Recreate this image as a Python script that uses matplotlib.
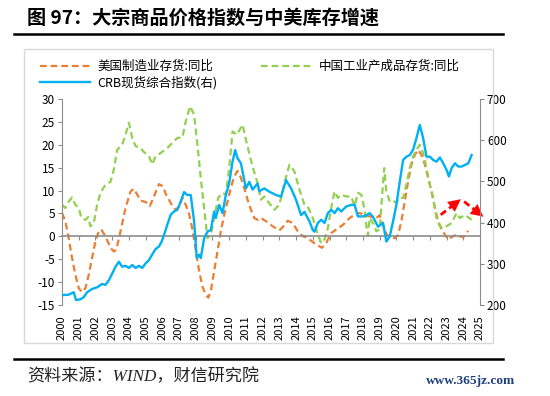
import matplotlib
matplotlib.use("Agg")
import matplotlib.pyplot as plt
from matplotlib.patches import Rectangle
from matplotlib.lines import Line2D

plt.rcParams['font.family'] = ['Noto Sans CJK SC', 'DejaVu Sans']
plt.rcParams['axes.unicode_minus'] = False

# 美国制造业存货:同比 (%)
us_t = [2000.0, 2000.2, 2000.4, 2000.6, 2000.8, 2001.0, 2001.2, 2001.4, 2001.6, 2001.8,
        2002.0, 2002.2, 2002.35, 2002.6, 2002.9, 2003.1, 2003.25, 2003.5, 2003.8, 2004.1,
        2004.3, 2004.5, 2004.7, 2005.0, 2005.25, 2005.5, 2005.8, 2006.05, 2006.2, 2006.4,
        2006.6, 2006.8, 2007.0, 2007.2, 2007.4, 2007.6, 2007.8, 2008.0, 2008.2, 2008.4,
        2008.6, 2008.75, 2008.9, 2009.1, 2009.3, 2009.5, 2009.7, 2009.9, 2010.1, 2010.3,
        2010.5, 2010.7, 2010.9, 2011.1, 2011.3, 2011.5, 2011.7, 2011.9, 2012.2, 2012.6,
        2013.0, 2013.2, 2013.5, 2013.8, 2014.1, 2014.4, 2014.6, 2014.8, 2015.1, 2015.4,
        2015.55, 2015.8, 2016.1, 2016.4, 2016.8, 2017.2, 2017.5, 2017.8, 2018.2, 2018.6,
        2018.8, 2019.0, 2019.2, 2019.4, 2019.6, 2019.9, 2020.1, 2020.3, 2020.5, 2020.7,
        2020.9, 2021.1, 2021.3, 2021.5, 2021.7, 2021.9, 2022.1, 2022.3, 2022.5, 2022.7,
        2022.9, 2023.1, 2023.3, 2023.6, 2023.8, 2024.0, 2024.3]
us_inv = [5.1, 3.3, -0.4, -4.7, -8.4, -11.3, -12.2, -11.3, -8.4, -4.7,
          -1.1, 1.1, 1.5, 0.0, -2.5, -3.3, -2.9, 1.1, 6.2, 9.8,
          10.4, 9.1, 7.8, 7.5, 6.6, 8.7, 11.4, 10.9, 9.3, 8.0,
          6.6, 5.8, 6.5, 8.4, 6.9, 5.0, 1.5, -3.0, -7.5, -11.0,
          -12.8, -13.4, -12.0, -7.6, -3.3, 1.1, 4.7, 7.6, 10.6, 13.1,
          14.3, 12.8, 10.5, 8.0, 5.8, 4.0, 3.6, 4.0, 3.3, 2.2,
          1.3, 2.0, 3.4, 2.9, 1.1, 0.0, -0.2, -0.7, -1.5, -2.2,
          -2.5, -1.5, 0.7, 1.5, 2.5, 4.0, 4.7, 5.1, 4.5, 4.2,
          4.0, 4.6, 2.5, 0.5, -0.2, -0.4, 0.3, 3.3, 7.6, 12.0,
          15.7, 17.8, 18.9, 17.8, 15.7, 12.7, 9.8, 6.2, 3.3, 1.5,
          0.4, -0.7, -0.2, 0.4, 0.0, -0.2, 1.2]

# 中国工业产成品存货:同比 (%)
cn_t = [2000.0, 2000.2, 2000.4, 2000.6, 2000.8, 2001.0, 2001.16, 2001.4, 2001.56, 2001.7,
        2001.9, 2002.1, 2002.3, 2002.6, 2002.9, 2003.1, 2003.3, 2003.6, 2003.8, 2004.0,
        2004.2, 2004.4, 2004.7, 2004.9, 2005.2, 2005.4, 2005.6, 2005.9, 2006.3, 2006.6,
        2006.9, 2007.2, 2007.4, 2007.66, 2007.9, 2008.1, 2008.3, 2008.5, 2008.7, 2008.9,
        2009.1, 2009.34, 2009.6, 2009.8, 2010.0, 2010.2, 2010.46, 2010.8, 2011.0, 2011.4,
        2011.7, 2011.9, 2012.1, 2012.4, 2012.7, 2013.0, 2013.3, 2013.6, 2013.9, 2014.2,
        2014.5, 2014.7, 2015.0, 2015.3, 2015.5, 2015.7, 2015.9, 2016.1, 2016.3, 2016.5,
        2016.7, 2017.0, 2017.3, 2017.5, 2017.7, 2017.9, 2018.1, 2018.22, 2018.3, 2018.4,
        2018.6, 2018.8, 2019.0, 2019.15, 2019.27, 2019.4, 2019.6, 2019.8, 2020.0, 2020.2,
        2020.4, 2020.6, 2020.8, 2021.0, 2021.2, 2021.4, 2021.6, 2021.8, 2022.0, 2022.2,
        2022.4, 2022.6, 2022.8, 2023.0, 2023.3, 2023.6, 2023.8, 2024.1, 2024.5]
cn_inv = [6.9, 6.2, 7.6, 8.5, 6.9, 6.2, 4.0, 3.6, 4.2, 2.2,
          2.9, 6.9, 9.5, 11.3, 11.9, 14.6, 18.9, 20.0, 22.2, 24.8,
          21.5, 19.7, 19.3, 18.4, 17.5, 15.7, 17.5, 18.2, 19.3, 20.4,
          21.5, 21.6, 25.1, 28.4, 26.6, 20.0, 12.7, 6.2, -0.4, 0.4,
          4.0, 8.4, 9.5, 9.1, 14.9, 22.9, 22.2, 24.4, 21.1, 15.2,
          11.6, 8.0, 8.7, 7.2, 5.8, 6.9, 11.6, 15.6, 14.2, 10.2,
          6.9, 6.5, 4.0, 0.4, -1.5, -0.7, 1.8, 6.2, 9.8, 8.4,
          9.1, 8.7, 8.7, 6.6, 9.5, 9.1, 5.8, 1.8, 0.2, 4.0,
          2.9, 1.1, 1.5, 9.1, 14.9, 9.8, 7.6, 7.8, 7.3, 8.4,
          8.4, 11.3, 14.9, 17.5, 18.9, 20.0, 18.2, 14.9, 11.3, 8.4,
          4.0, 2.2, 1.8, 2.2, 2.9, 5.1, 4.0, 4.7, 3.6]

# CRB现货综合指数 (右轴)
crb_t = [2000.0, 2000.4, 2000.7, 2000.84, 2001.1, 2001.3, 2001.5, 2001.8, 2002.1, 2002.4,
         2002.6, 2002.8, 2003.0, 2003.2, 2003.4, 2003.6, 2003.8, 2004.0, 2004.2, 2004.4,
         2004.6, 2004.8, 2005.0, 2005.2, 2005.4, 2005.6, 2005.8, 2005.96, 2006.1, 2006.3,
         2006.5, 2006.7, 2006.9, 2007.1, 2007.3, 2007.5, 2007.7, 2007.9, 2008.06, 2008.2,
         2008.3, 2008.5, 2008.7, 2008.9, 2009.1, 2009.2, 2009.4, 2009.6, 2009.8, 2010.0,
         2010.2, 2010.36, 2010.5, 2010.7, 2011.0, 2011.2, 2011.4, 2011.7, 2011.8, 2012.1,
         2012.4, 2012.8, 2013.1, 2013.4, 2013.7, 2014.0, 2014.3, 2014.5, 2014.8, 2015.0,
         2015.1, 2015.3, 2015.5, 2015.7, 2015.9, 2016.1, 2016.3, 2016.5, 2016.7, 2017.0,
         2017.3, 2017.5, 2017.7, 2018.0, 2018.2, 2018.4, 2018.6, 2018.9, 2019.2, 2019.4,
         2019.6, 2019.8, 2020.0, 2020.2, 2020.4, 2020.6, 2020.8, 2021.0, 2021.2, 2021.4,
         2021.6, 2021.8, 2022.0, 2022.2, 2022.4, 2022.6, 2022.8, 2023.0, 2023.14, 2023.3,
         2023.5, 2023.7, 2023.9, 2024.1, 2024.3, 2024.5]
crb = [224, 225, 231, 212, 214, 219, 231, 239, 243, 251,
       249, 260, 276, 293, 305, 293, 295, 290, 297, 290,
       295, 290, 301, 309, 323, 336, 342, 354, 370, 395,
       419, 427, 431, 451, 474, 467, 467, 403, 314, 322,
       314, 362, 378, 382, 427, 411, 443, 423, 467, 496,
       548, 576, 556, 544, 483, 499, 480, 495, 476, 483,
       475, 467, 463, 503, 483, 455, 418, 426, 403, 382,
       378, 399, 407, 399, 423, 431, 423, 435, 427, 439,
       443, 443, 415, 415, 418, 423, 414, 390, 399, 354,
       366, 403, 443, 499, 552, 560, 564, 577, 605, 637,
       605, 560, 560, 552, 548, 558, 544, 528, 512, 532,
       544, 536, 536, 540, 544, 564]

years = list(range(2000, 2026))

fig = plt.figure(figsize=(5.5, 3.96), dpi=100)
W, H = 550, 396

def fx(px):
    return px / W

def fy(py):
    return 1 - py / H

ax = fig.add_axes([fx(62), fy(305), 418 / W, 206 / H])
ax2 = ax.twinx()

orange = '#ED7D31'
green = '#92D050'
blue = '#00B0F0'
grey = '#8C8C8C'
red = '#FF0000'

l1, = ax.plot(us_t, us_inv, color=orange, lw=1.6, dashes=(3, 1.8))
l2, = ax.plot(cn_t, cn_inv, color=green, lw=1.6, dashes=(3, 1.8))
l3, = ax2.plot(crb_t, crb, color=blue, lw=1.7)

for a in (ax, ax2):
    for s in a.spines.values():
        s.set_visible(False)
ax.spines['bottom'].set_position(('data', 0))
ax.spines['bottom'].set_visible(True)
ax.spines['bottom'].set_color(grey)
ax.spines['bottom'].set_linewidth(1.2)
ax.spines['left'].set_visible(True)
ax.spines['left'].set_color(grey)
ax2.spines['right'].set_visible(True)
ax2.spines['right'].set_color(grey)

ax.set_xlim(2000, 2025)
ax.set_ylim(-15, 30)
ax.set_yticks(range(-15, 31, 5))
ax2.set_ylim(200, 700)
ax2.set_yticks(range(200, 701, 100))
ax.set_xticks(years)
ax.set_xticklabels([str(y) for y in years], rotation=90)

ax.tick_params(axis='y', colors=grey, labelcolor='black', labelsize=8.5, length=3, pad=2)
ax2.tick_params(axis='y', colors=grey, labelcolor='black', labelsize=8.5, length=3, pad=2)
ax.tick_params(axis='x', colors=grey, labelcolor='black', labelsize=8, length=3, pad=54)

# 红色虚线箭头 (左轴坐标)
arrows = [((2022.65, 4.7), (2023.85, 8.1)), ((2024.05, 7.6), (2025.2, 4.3))]
for (x0, y0), (x1, y1) in arrows:
    ax.plot([x0, x0 + 0.7 * (x1 - x0)], [y0, y0 + 0.7 * (y1 - y0)],
            color=red, lw=2.0, dashes=(2.4, 1.4), clip_on=False)
    ax.annotate('', xy=(x1, y1), xytext=(x0 + 0.55 * (x1 - x0), y0 + 0.55 * (y1 - y0)),
                arrowprops=dict(arrowstyle='-|>', color=red, lw=0.1,
                                mutation_scale=22, shrinkA=0, shrinkB=0),
                annotation_clip=False)

# 外框
fig.patches.append(Rectangle((fx(24), fy(343)), (493 - 24) / W, (343 - 49) / H,
                             transform=fig.transFigure, fill=False,
                             edgecolor='#D9D9D9', lw=1))
# 标题与来源
fig.add_artist(Line2D([fx(14), fx(503)], [fy(34), fy(34)], color='black', lw=1.8))
fig.add_artist(Line2D([fx(14), fx(503)], [fy(359), fy(359)], color='black', lw=1.8))
fig.text(fx(27), fy(18), '图 97：大宗商品价格指数与中美库存增速', fontsize=13.8,
         fontweight='bold', va='center', ha='left')
fig.text(fx(27), fy(377), '资料来源：WIND，财信研究院', fontsize=12.3,
         family=['Liberation Serif', 'Noto Sans CJK SC'], style='italic',
         va='center', ha='left', color='#222222')
fig.text(fx(515), fy(381), 'www.365jz.com', fontsize=9.6, family='Liberation Serif',
         fontweight='bold', color='#1F3F7F', va='center', ha='right')

fig.legend([l1, l3, l2], ['美国制造业存货:同比', 'CRB现货综合指数(右)', '中国工业产成品存货:同比'],
           ncol=2, loc='upper left', bbox_to_anchor=(fx(40), fy(60)), frameon=False,
           fontsize=9, borderpad=0, borderaxespad=0, handlelength=4.0,
           handletextpad=0.6, columnspacing=3.5, labelspacing=0.22)

fig.savefig('out.png', dpi=100)
